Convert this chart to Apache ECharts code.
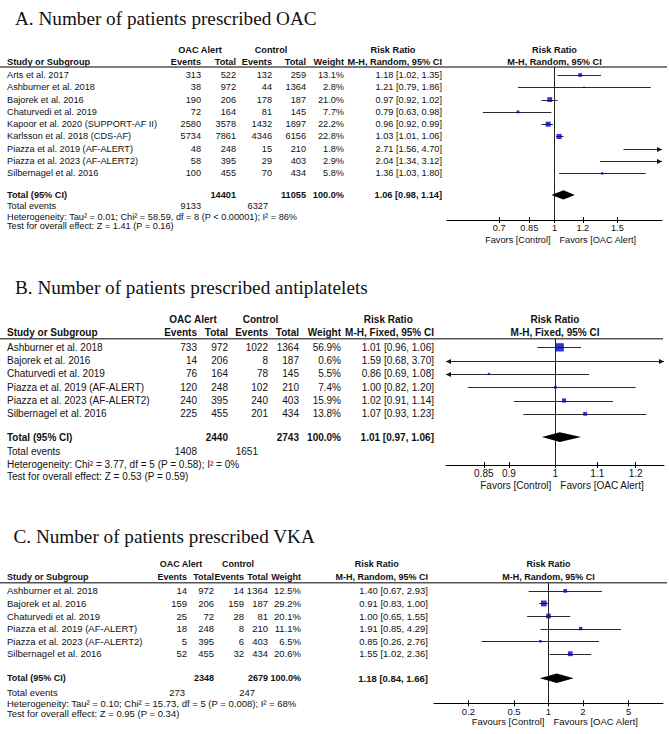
<!DOCTYPE html>
<html>
<head>
    <meta charset="utf-8" />
    <title>Forest plots</title>
    <script src="https://cdn.jsdelivr.net/npm/echarts@6/dist/echarts.min.js"></script>
    <style>
        html, body { margin: 0; padding: 0; background: #fff; }
        #main { width: 669px; height: 734px; }
    </style>
</head>
<body>
    <div id="main"></div>

    <script>
        // ---------- A. OAC ----------
        var titleA = 'A. Number of patients prescribed OAC';
        var studiesA = ['Arts et al. 2017', 'Ashburner et al. 2018', 'Bajorek et al. 2016', 'Chaturvedi et al. 2019',
            'Kapoor et al. 2020 (SUPPORT-AF II)', 'Karlsson et al. 2018 (CDS-AF)', 'Piazza et al. 2019 (AF-ALERT)',
            'Piazza et al. 2023 (AF-ALERT2)', 'Silbernagel et al. 2016'];
        var alertEventsA = [313, 38, 190, 72, 2580, 5734, 48, 58, 100];
        var alertTotalA = [522, 972, 206, 164, 3578, 7861, 248, 395, 455];
        var controlEventsA = [132, 44, 178, 81, 1432, 4346, 15, 29, 70];
        var controlTotalA = [259, 1364, 187, 145, 1897, 6156, 210, 403, 434];
        var weightA = [13.1, 2.8, 21.0, 7.7, 22.2, 22.8, 1.8, 2.9, 5.8];
        var rrA = [1.18, 1.21, 0.97, 0.79, 0.96, 1.03, 2.71, 2.04, 1.36];
        var loA = [1.02, 0.79, 0.92, 0.63, 0.92, 1.01, 1.56, 1.34, 1.03];
        var hiA = [1.35, 1.86, 1.02, 0.98, 0.99, 1.06, 4.70, 3.12, 1.80];
        var totalsA = [14401, 11055];
        var totalEventsA = [9133, 6327];
        var pooledA = [1.06, 0.98, 1.14];
        var hetA = 'Heterogeneity: Tau\u00b2 = 0.01; Chi\u00b2 = 58.59, df = 8 (P < 0.00001); I\u00b2 = 86%';
        var testA = 'Test for overall effect: Z = 1.41 (P = 0.16)';
        var ticksA = [0.7, 0.85, 1, 1.2, 1.5];
        var rangeA = [0.5, 2];

        // ---------- B. antiplatelets ----------
        var titleB = 'B. Number of patients prescribed antiplatelets';
        var studiesB = ['Ashburner et al. 2018', 'Bajorek et al. 2016', 'Chaturvedi et al. 2019',
            'Piazza et al. 2019 (AF-ALERT)', 'Piazza et al. 2023 (AF-ALERT2)', 'Silbernagel et al. 2016'];
        var alertEventsB = [733, 14, 76, 120, 240, 225];
        var alertTotalB = [972, 206, 164, 248, 395, 455];
        var controlEventsB = [1022, 8, 78, 102, 240, 201];
        var controlTotalB = [1364, 187, 145, 210, 403, 434];
        var weightB = [56.9, 0.6, 5.5, 7.4, 15.9, 13.8];
        var rrB = [1.01, 1.59, 0.86, 1.00, 1.02, 1.07];
        var loB = [0.96, 0.68, 0.69, 0.82, 0.91, 0.93];
        var hiB = [1.06, 3.70, 1.08, 1.20, 1.14, 1.23];
        var totalsB = [2440, 2743];
        var totalEventsB = [1408, 1651];
        var pooledB = [1.01, 0.97, 1.06];
        var hetB = 'Heterogeneity: Chi\u00b2 = 3.77, df = 5 (P = 0.58); I\u00b2 = 0%';
        var testB = 'Test for overall effect: Z = 0.53 (P = 0.59)';
        var ticksB = [0.85, 0.9, 1, 1.1, 1.2];
        var rangeB = [0.78, 1.28];

        // ---------- C. VKA ----------
        var titleC = 'C. Number of patients prescribed VKA';
        var studiesC = ['Ashburner et al. 2018', 'Bajorek et al. 2016', 'Chaturvedi et al. 2019',
            'Piazza et al. 2019 (AF-ALERT)', 'Piazza et al. 2023 (AF-ALERT2)', 'Silbernagel et al. 2016'];
        var alertEventsC = [14, 159, 25, 18, 5, 52];
        var alertTotalC = [972, 206, 72, 248, 395, 455];
        var controlEventsC = [14, 159, 28, 8, 6, 32];
        var controlTotalC = [1364, 187, 81, 210, 403, 434];
        var weightC = [12.5, 29.2, 20.1, 11.1, 6.5, 20.6];
        var rrC = [1.40, 0.91, 1.00, 1.91, 0.85, 1.55];
        var loC = [0.67, 0.83, 0.65, 0.85, 0.26, 1.02];
        var hiC = [2.93, 1.00, 1.55, 4.29, 2.76, 2.36];
        var totalsC = [2348, 2679];
        var totalEventsC = [273, 247];
        var pooledC = [1.18, 0.84, 1.66];
        var hetC = 'Heterogeneity: Tau\u00b2 = 0.10; Chi\u00b2 = 15.73, df = 5 (P = 0.008); I\u00b2 = 68%';
        var testC = 'Test for overall effect: Z = 0.95 (P = 0.34)';
        var ticksC = [0.2, 0.5, 1, 2, 5];
        var rangeC = [0.1, 10];

        var SANS = '"Liberation Sans", Arial, sans-serif';
        var SERIF = '"Liberation Serif", "Times New Roman", serif';
        var INK = '#111';

        // panel layout (pixels) — table columns are right edges
        var panels = [
            {
                title: titleA, studies: studiesA, ae: alertEventsA, at: alertTotalA, ce: controlEventsA, ct: controlTotalA,
                w: weightA, rr: rrA, lo: loA, hi: hiA, totals: totalsA, tev: totalEventsA, pooled: pooledA,
                het: hetA, test: testA, ticks: ticksA, range: rangeA,
                method: 'M-H, Random, 95% CI', fav: ['Favors [Control]', 'Favors [OAC Alert]'],
                L: { top: 67, bottom: 220, left: 447, right: 662, yMin: -0.65, yMax: 11.79, totalRow: 9.75,
                    font: 9.2, headFont: 9.2, footFont: 9.2, titleX: 15, titleY: 18.5, head1: 50, head2: 62, ruleEnd: 667,
                    cols: [201, 236, 272, 306, 344, 442], alertHead: 200, controlHead: 271, rrHead: 393,
                    tevX: [201, 268], footY: [206, 216.5, 226], favY: 240 }
            },
            {
                title: titleB, studies: studiesB, ae: alertEventsB, at: alertTotalB, ce: controlEventsB, ct: controlTotalB,
                w: weightB, rr: rrB, lo: loB, hi: hiB, totals: totalsB, tev: totalEventsB, pooled: pooledB,
                het: hetB, test: testB, ticks: ticksB, range: rangeB,
                method: 'M-H, Fixed, 95% CI', fav: ['Favors [Control]', 'Favors [OAC Alert]'],
                L: { top: 338.7, bottom: 465, left: 446, right: 664, yMin: -0.65, yMax: 8.85, totalRow: 6.75,
                    font: 10, headFont: 10, footFont: 10, titleX: 15, titleY: 287, head1: 319, head2: 332, ruleEnd: 663,
                    cols: [197, 228, 268, 299, 341, 434], alertHead: 193, controlHead: 260.5, rrHead: 388.3,
                    tevX: [197, 258], footY: [451, 464, 476.5], favY: 485.7 }
            },
            {
                title: titleC, studies: studiesC, ae: alertEventsC, at: alertTotalC, ce: controlEventsC, ct: controlTotalC,
                w: weightC, rr: rrC, lo: loC, hi: hiC, totals: totalsC, tev: totalEventsC, pooled: pooledC,
                het: hetC, test: testC, ticks: ticksC, range: rangeC,
                method: 'M-H, Random, 95% CI', fav: ['Favours [Control]', 'Favours [OAC Alert]'],
                L: { top: 582.7, bottom: 703.3, left: 434, right: 663, yMin: -0.65, yMax: 8.94, totalRow: 6.95,
                    font: 9.5, headFont: 9, footFont: 9.5, titleX: 13.5, titleY: 536, head1: 564.3, head2: 577.3, ruleEnd: 667,
                    cols: [187, 214, 244, 268, 301, 428], alertHead: 181, controlHead: 238, rrHead: 376.7,
                    tevX: [185, 255], footY: [692.7, 703.3, 713.5], favY: 721.7 }
            }
        ];

        function fmtRR(v, lo, hi) {
            return v.toFixed(2) + ' [' + lo.toFixed(2) + ', ' + hi.toFixed(2) + ']';
        }

        function arrowHead(x, y, dir) {
            return {
                type: 'polygon',
                shape: { points: [[x, y], [x - dir * 5, y - 2.5], [x - dir * 5, y + 2.5]] },
                style: { fill: '#111' }
            };
        }

        function tickLabel(v) {
            return String(+Math.exp(v).toPrecision(4));
        }

        var grids = [], xAxes = [], yAxes = [], series = [];

        panels.forEach(function (P, p) {
            var L = P.L;
            var tickVals = P.ticks.map(Math.log);

            grids.push({ left: L.left, top: L.top, width: L.right - L.left, height: L.bottom - L.top });

            xAxes.push({
                gridIndex: p, type: 'value', position: 'bottom',
                min: Math.log(P.range[0]), max: Math.log(P.range[1]),
                axisLine: { show: true, onZero: false, lineStyle: { color: '#000', width: 1 } },
                axisTick: { show: true, customValues: tickVals, length: 3, lineStyle: { color: '#000' } },
                axisLabel: { customValues: tickVals, formatter: tickLabel, fontSize: L.font, fontFamily: SANS, color: INK, margin: 3 },
                splitLine: { show: false }
            });
            // inner half of the crossing ticks
            xAxes.push({
                gridIndex: p, type: 'value', position: 'bottom',
                min: Math.log(P.range[0]), max: Math.log(P.range[1]),
                axisLine: { show: false, onZero: false },
                axisTick: { show: true, inside: true, customValues: tickVals, length: 3, lineStyle: { color: '#000' } },
                axisLabel: { show: false },
                splitLine: { show: false }
            });
            yAxes.push({ gridIndex: p, type: 'value', inverse: true, min: L.yMin, max: L.yMax, show: false });

            // confidence intervals
            series.push({
                type: 'custom', xAxisIndex: p * 2, yAxisIndex: p, silent: true,
                data: P.studies.map(function (s, i) { return [Math.log(P.lo[i]), Math.log(P.hi[i]), i]; }),
                encode: { x: [0, 1], y: 2 },
                renderItem: function (params, api) {
                    var cs = params.coordSys;
                    var a = api.coord([api.value(0), api.value(2)]);
                    var b = api.coord([api.value(1), api.value(2)]);
                    var x0 = Math.max(a[0], cs.x), x1 = Math.min(b[0], cs.x + cs.width);
                    var y = Math.round(a[1]) + 0.5;
                    var kids = [{ type: 'line', shape: { x1: x0, y1: y, x2: x1, y2: y }, style: { stroke: '#2a2a2a', lineWidth: 1 } }];
                    if (a[0] < cs.x) kids.push(arrowHead(x0, y, -1));
                    if (b[0] > cs.x + cs.width) kids.push(arrowHead(x1, y, 1));
                    return { type: 'group', children: kids };
                }
            });

            // point estimates, size from weight
            series.push({
                type: 'scatter', xAxisIndex: p * 2, yAxisIndex: p, silent: true, clip: true, z: 4,
                data: P.rr.map(function (v, i) { return [Math.log(v), i, P.w[i]]; }),
                symbol: 'rect',
                symbolSize: function (val) { return Math.max(1.3, 1.15 * Math.sqrt(val[2]) - 0.4); },
                itemStyle: { color: '#0000c8' },
                markLine: {
                    silent: true, symbol: ['none', 'none'], animation: false,
                    label: { show: false },
                    lineStyle: { color: '#222', width: 1, type: 'solid' },
                    data: [{ xAxis: 0 }]
                }
            });

            // pooled diamond
            series.push({
                type: 'custom', xAxisIndex: p * 2, yAxisIndex: p, silent: true, z: 5,
                data: [[Math.log(P.pooled[1]), Math.log(P.pooled[0]), Math.log(P.pooled[2]), L.totalRow]],
                encode: { x: [0, 1, 2], y: 3 },
                renderItem: function (params, api) {
                    var y = api.value(3);
                    var l = api.coord([api.value(0), y]);
                    var c = api.coord([api.value(1), y]);
                    var r = api.coord([api.value(2), y]);
                    var h = api.size([0, 0.37])[1];
                    return {
                        type: 'polygon',
                        shape: { points: [[l[0], l[1]], [c[0], c[1] - h], [r[0], r[1]], [c[0], c[1] + h]] },
                        style: { fill: '#000' }
                    };
                }
            });
        });

        var chart = echarts.init(document.getElementById('main'), null, { renderer: 'svg' });
        chart.setOption({
            animation: false,
            grid: grids,
            xAxis: xAxes,
            yAxis: yAxes,
            series: series
        });

        // table text, placed on the rows of each panel's y scale
        function txt(x, y, s, size, align, bold, family) {
            return {
                type: 'text', silent: true, x: x, y: y,
                style: {
                    text: String(s), fill: INK,
                    font: (bold ? 'bold ' : '') + size + 'px ' + (family || SANS),
                    align: align || 'left', verticalAlign: 'middle',
                    textAlign: align || 'left', textVerticalAlign: 'middle'
                }
            };
        }

        var els = [];
        panels.forEach(function (P, p) {
            var L = P.L, f = L.font, hf = L.headFont, c = L.cols;
            var rowY = function (i) { return chart.convertToPixel({ gridIndex: p }, [0, i])[1]; };
            var nullX = chart.convertToPixel({ gridIndex: p }, [0, 0])[0];
            var midX = (L.left + L.right) / 2;

            els.push(txt(L.titleX, L.titleY, P.title, 19.2, 'left', false, SERIF));

            els.push(txt(L.alertHead, L.head1, 'OAC Alert', hf, 'center', true));
            els.push(txt(L.controlHead, L.head1, 'Control', hf, 'center', true));
            els.push(txt(L.rrHead, L.head1, 'Risk Ratio', hf, 'center', true));
            els.push(txt(midX, L.head1, 'Risk Ratio', hf, 'center', true));

            els.push(txt(7, L.head2, 'Study or Subgroup', hf, 'left', true));
            ['Events', 'Total', 'Events', 'Total', 'Weight', P.method].forEach(function (h, k) {
                els.push(txt(c[k], L.head2, h, hf, 'right', true));
            });
            els.push(txt(midX, L.head2, P.method, hf, 'center', true));

            els.push({
                type: 'line', silent: true,
                shape: { x1: 0, y1: L.top, x2: L.ruleEnd, y2: L.top },
                style: { stroke: '#555', lineWidth: 1.5 }
            });

            P.studies.forEach(function (s, i) {
                var y = rowY(i);
                els.push(txt(7, y, s, f, 'left'));
                [P.ae[i], P.at[i], P.ce[i], P.ct[i], P.w[i].toFixed(1) + '%', fmtRR(P.rr[i], P.lo[i], P.hi[i])]
                    .forEach(function (v, k) { els.push(txt(c[k], y, v, f, 'right')); });
            });

            var ty = rowY(L.totalRow);
            els.push(txt(7, ty, 'Total (95% CI)', hf, 'left', true));
            els.push(txt(c[1], ty, P.totals[0], hf, 'right', true));
            els.push(txt(c[3], ty, P.totals[1], hf, 'right', true));
            els.push(txt(c[4], ty, '100.0%', hf, 'right', true));
            els.push(txt(c[5], ty, fmtRR(P.pooled[0], P.pooled[1], P.pooled[2]), f, 'right', true));

            els.push(txt(7, L.footY[0], 'Total events', L.footFont, 'left'));
            els.push(txt(L.tevX[0], L.footY[0], P.tev[0], L.footFont, 'right'));
            els.push(txt(L.tevX[1], L.footY[0], P.tev[1], L.footFont, 'right'));
            els.push(txt(7, L.footY[1], P.het, L.footFont, 'left'));
            els.push(txt(7, L.footY[2], P.test, L.footFont, 'left'));

            els.push(txt(nullX - 4, L.favY, P.fav[0], f, 'right'));
            els.push(txt(nullX + 5, L.favY, P.fav[1], f, 'left'));
        });

        chart.setOption({ graphic: { elements: els } });
    </script>
</body>
</html>
